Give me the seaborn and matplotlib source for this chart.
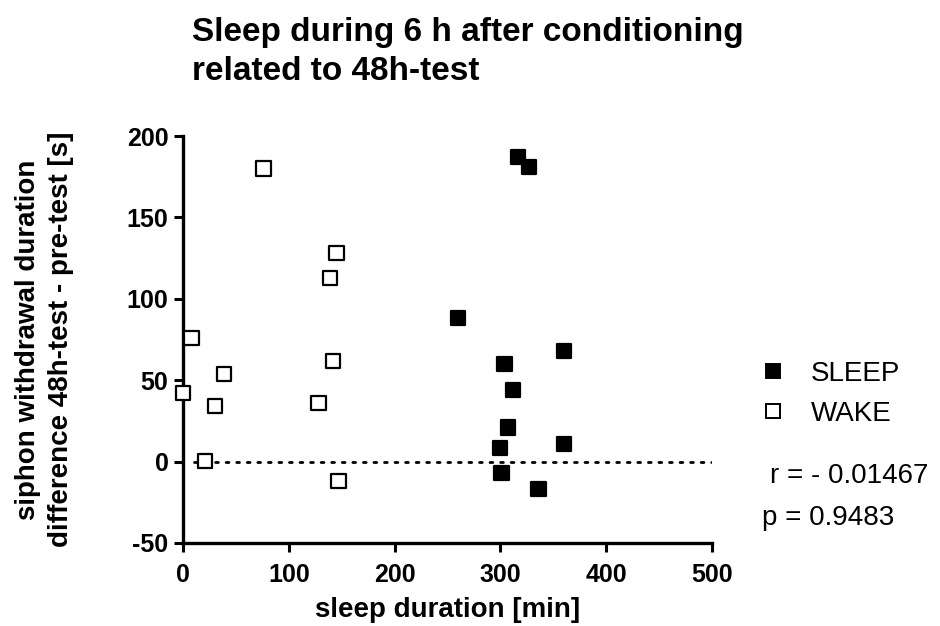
import matplotlib
matplotlib.use("Agg")
import matplotlib.pyplot as plt
from matplotlib.lines import Line2D
import seaborn as sns
import pandas as pd

sleep_x = [317, 327, 260, 360, 304, 312, 307, 300, 360, 301, 336]
sleep_y = [187, 181, 88, 68, 60, 44, 21, 8.5, 11, -7, -17]
wake_x = [76, 145, 139, 8, 39, 0.3, 30, 21, 142, 128, 147]
wake_y = [180, 128, 113, 76, 54, 42, 34, 0.3, 62, 36, -12]
groups = ["SLEEP", "WAKE"]
x_ticks = [0, 100, 200, 300, 400, 500]
y_ticks = [-50, 0, 50, 100, 150, 200]
stats_text = ["r = - 0.01467", "p = 0.9483"]

df = pd.DataFrame({
    "sleep": sleep_x + wake_x,
    "diff": sleep_y + wake_y,
    "group": [groups[0]] * len(sleep_x) + [groups[1]] * len(wake_x),
})

sns.set_style("ticks")
plt.rcParams["font.family"] = ["Liberation Sans", "DejaVu Sans"]
plt.rcParams["axes.unicode_minus"] = False
plt.rcParams["text.color"] = "black"
plt.rcParams["axes.labelcolor"] = "black"
plt.rcParams["xtick.color"] = "black"
plt.rcParams["ytick.color"] = "black"

fig = plt.figure(figsize=(9.4, 6.26), dpi=100)
ax = fig.add_axes([0.1947, 0.1326, 0.5627, 0.6501])

ax.plot([10, 500], [0, 0], color="black", lw=2,
        linestyle=(0, (1, 2.8)), dash_capstyle="round", zorder=1)

sns.scatterplot(data=df, x="sleep", y="diff", hue="group",
                palette={"SLEEP": "black", "WAKE": "white"},
                marker="s", s=105, edgecolor="black", linewidth=1.6,
                legend=False, ax=ax, clip_on=False, zorder=3)

ax.set_xlim(0, 500)
ax.set_ylim(-50, 200)
ax.set_xticks(x_ticks)
ax.set_yticks(y_ticks)
ax.tick_params(axis="both", labelsize=18, width=2.2, length=6.5, color="black",
               labelcolor="black")
ax.tick_params(axis="x", pad=8)
ax.tick_params(axis="y", pad=4)
for lab in ax.get_xticklabels() + ax.get_yticklabels():
    lab.set_fontweight("bold")
for side in ["left", "bottom"]:
    ax.spines[side].set_linewidth(2.4)
    ax.spines[side].set_color("black")
for side in ["top", "right"]:
    ax.spines[side].set_visible(False)

ax.set_xlabel("sleep duration [min]", fontsize=20, fontweight="bold", labelpad=7)
ax.set_ylabel("siphon withdrawal duration\ndifference 48h-test - pre-test [s]",
              fontsize=20, fontweight="bold", labelpad=38, linespacing=1.35)

fig.text(0.204, 0.917, "Sleep during 6 h after conditioning\nrelated to 48h-test",
         fontsize=24, fontweight="bold", ha="left", va="center",
         linespacing=1.3)

handles = [
    Line2D([], [], marker="s", linestyle="none", markersize=10,
           markerfacecolor="black", markeredgecolor="black", markeredgewidth=1.4),
    Line2D([], [], marker="s", linestyle="none", markersize=10,
           markerfacecolor="white", markeredgecolor="black", markeredgewidth=1.4),
]
fig.legend(handles, groups, loc="upper left", bbox_to_anchor=(0.799, 0.441),
           frameon=False, fontsize=20, handlelength=0.8, handletextpad=0.95,
           labelspacing=0.5, borderaxespad=0)

fig.text(0.819, 0.239, stats_text[0], fontsize=20, ha="left", va="center")
fig.text(0.811, 0.172, stats_text[1], fontsize=20, ha="left", va="center")

fig.savefig("out.png", dpi=100)
